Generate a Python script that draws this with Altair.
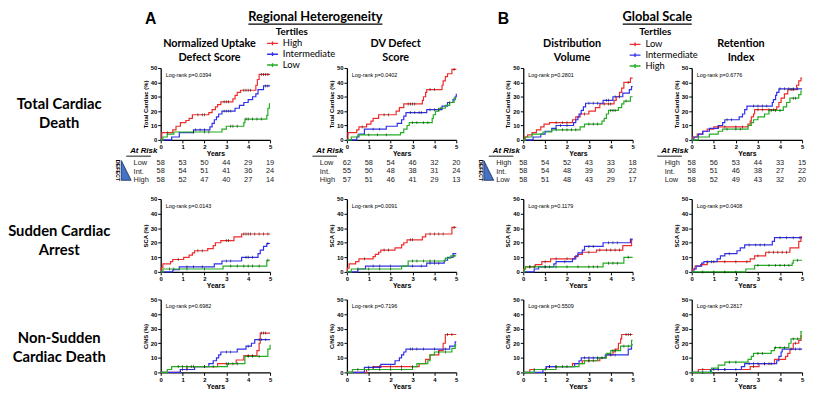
import altair as alt
import pandas as pd

RED = "#ee2c2c"
BLUE = "#3030ea"
GREEN = "#22ad22"
A_GROUPS = ["High", "Intermediate", "Low"]
B_GROUPS = ["Low", "Intermediate", "High"]
YEARS = [0, 1, 2, 3, 4, 5]
Y_TICKS = [0, 10, 20, 30, 40, 50]

PANEL_TITLES = {"A1": ["Normalized Uptake", "Defect  Score"], "A2": ["DV Defect", "Score"],
                "B1": ["Distribution", "Volume"], "B2": ["Retention", "Index"]}
Y_TITLES = ["Total Cardiac (%)", "SCA (%)", "C/NS (%)"]
ROW_LABELS = [["Total Cardiac", "Death"], ["Sudden Cardiac", "Arrest"], ["Non-Sudden", "Cardiac Death"]]
P_VALUES = {"A1": ["0.0394", "0.0143", "0.6982"], "A2": ["0.0402", "0.0091", "0.7196"],
            "B1": ["0.2801", "0.1179", "0.5509"], "B2": ["0.6776", "0.0408", "0.2817"]}

AT_RISK_A1 = {"Low": [58, 53, 50, 44, 29, 19], "Int.": [58, 54, 51, 41, 36, 24], "High": [58, 52, 47, 40, 27, 14]}
AT_RISK_A2 = {"Low": [62, 58, 54, 46, 32, 20], "Int.": [55, 50, 48, 38, 31, 24], "High": [57, 51, 46, 41, 29, 13]}
AT_RISK_B1 = {"High": [58, 54, 52, 43, 33, 18], "Int.": [58, 54, 48, 39, 30, 22], "Low": [58, 51, 48, 43, 29, 17]}
AT_RISK_B2 = {"High": [58, 56, 53, 44, 33, 15], "Int.": [58, 51, 46, 38, 27, 22], "Low": [58, 52, 49, 43, 32, 20]}

# ---- cumulative event curves: (times, percent) ----
A1_TOTAL = {
    "High": ([0, 0.05, 0.55, 0.7, 0.9, 1.15, 1.3, 1.45, 2.2, 2.35, 2.5, 2.6, 2.75, 3.3, 3.4, 3.5, 3.65, 4.35, 4.42, 4.5, 5],
             [0, 5, 7, 9.5, 12, 13.5, 15, 17.5, 19, 21, 23, 24.5, 26.5, 28.5, 31, 33, 34.5, 38, 42, 45.5, 45.5]),
    "Intermediate": ([0, 0.5, 0.85, 1.5, 2.25, 2.35, 2.45, 2.55, 2.65, 2.8, 3.4, 3.6, 3.8, 4.0, 4.2, 4.35, 4.45, 4.7, 5],
                     [0, 2, 5, 7, 9, 11.5, 14, 16, 18, 20, 22, 24, 26, 28, 30, 32, 35, 37.5, 37.5]),
    "Low": ([0, 0.1, 0.3, 0.6, 2.8, 3.0, 3.8, 3.85, 4.85, 4.9, 4.97, 5],
            [0, 2, 4, 5.5, 7.5, 9.5, 12, 14.5, 17, 22, 25, 25]),
}
A1_SCA = {
    "High": ([0, 0.02, 0.1, 0.45, 0.55, 1.05, 1.3, 1.45, 1.55, 2.15, 2.4, 2.5, 2.75, 3.35, 3.7, 5],
             [0, 3, 5.5, 7, 8.5, 10, 11.5, 13, 14.5, 16, 18, 20, 21.5, 24, 26, 26]),
    "Intermediate": ([0, 0.55, 0.85, 2.45, 2.8, 3.7, 4.45, 4.55, 4.7, 4.85, 5],
                     [0, 1.5, 3.5, 5.5, 7.5, 10, 12.5, 15, 17.5, 19.5, 19.5]),
    "Low": ([0, 0.1, 2.85, 4.85, 5], [0, 2, 4, 8, 8]),
}
A1_CNS = {
    "High": ([0, 0.9, 1.2, 2.6, 3.45, 3.8, 4.4, 4.5, 4.55, 5], [0, 2, 4, 6, 8.5, 11.5, 15, 20, 27, 27]),
    "Intermediate": ([0, 0.9, 1.55, 2.2, 2.4, 2.55, 2.65, 2.75, 3.5, 3.9, 4.15, 4.3, 5],
                     [0, 2, 4, 6, 8, 10, 12, 14, 16, 18, 20, 22.5, 22.5]),
    "Low": ([0, 0.3, 0.5, 3.05, 3.85, 4.9, 5.0], [0, 2, 4, 6, 11, 16, 19]),
}
A2_TOTAL = {
    "High": ([0, 0.05, 0.45, 0.55, 0.9, 1.1, 1.2, 1.45, 2.25, 2.4, 2.6, 3.45, 3.5, 3.6, 3.65, 4.35, 4.4, 4.5, 4.6, 4.8, 5],
             [0, 5, 7, 9, 11, 13, 15, 17.5, 20, 22.5, 25, 27.5, 30, 33, 35, 38, 41, 44, 46, 49, 49]),
    "Intermediate": ([0, 0.45, 0.55, 0.8, 1.8, 2.3, 2.5, 2.6, 2.7, 3.65, 4.35, 4.6, 4.85, 4.95, 5],
                     [0, 2, 4, 7.5, 9.5, 11.5, 14, 16.5, 19, 21, 23.5, 26, 28, 30, 32]),
    "Low": ([0, 0.2, 0.5, 2.45, 2.6, 2.75, 2.85, 3.9, 3.95, 4.05, 4.2, 4.5, 4.7, 4.9, 5],
            [0, 2, 3.5, 5, 7.5, 10, 12, 15, 17.5, 20, 22, 24, 26, 29, 29]),
}
A2_SCA = {
    "High": ([0, 0.02, 0.1, 0.4, 0.55, 1.2, 1.3, 1.45, 1.55, 2.2, 2.5, 2.6, 2.75, 3.45, 3.6, 4.8, 5],
             [0, 2.5, 5.5, 7, 9, 10.5, 12, 13.5, 15, 16.5, 18.5, 20, 22, 24, 26, 30.5, 30.5]),
    "Intermediate": ([0, 0.5, 0.85, 3.65, 4.45, 4.6, 4.85, 5], [0, 2, 4, 6, 8, 10, 12.5, 12.5]),
    "Low": ([0, 0.2, 2.5, 2.8, 4.5, 4.75, 5], [0, 2, 4, 7.5, 9.5, 11, 11]),
}
A2_CNS = {
    "High": ([0, 0.9, 1.2, 3.3, 3.6, 3.8, 4.2, 4.4, 4.5, 5], [0, 2, 4, 6, 9, 12, 15, 20, 26, 26]),
    "Intermediate": ([0, 0.8, 1.55, 2.2, 2.4, 2.5, 2.6, 2.7, 4.7, 4.95, 5],
                     [0, 3.5, 5.5, 8, 10, 12, 14, 16, 18, 21, 21]),
    "Low": ([0, 0.25, 3.0, 3.2, 3.7, 3.8, 4.0, 4.8, 4.95, 5], [0, 2, 4, 6, 8, 12, 14, 16.5, 19, 19]),
}
B1_TOTAL = {
    "Low": ([0, 0.05, 0.2, 0.4, 0.6, 0.8, 0.95, 1.2, 2.25, 2.4, 2.6, 3.0, 3.3, 3.5, 4.15, 4.25, 4.4, 4.5, 4.6, 4.9, 5],
            [0, 2, 3.5, 5, 7, 9, 11, 12, 14, 16, 18, 20, 22.5, 25, 27.5, 30, 33, 36, 40, 43, 43]),
    "Intermediate": ([0, 0.45, 0.8, 1.0, 1.3, 1.5, 2.3, 2.4, 2.5, 2.55, 2.65, 2.75, 2.85, 3.65, 4.1, 4.55, 4.85, 4.95, 5],
                     [0, 2, 4, 6, 8, 10, 12, 14, 16, 18, 20.5, 23, 25.5, 27.5, 30, 32.5, 35, 37, 37]),
    "High": ([0, 0.1, 0.4, 0.9, 1.3, 2.6, 2.8, 3.6, 3.7, 3.8, 3.9, 4.35, 4.5, 4.6, 4.9, 5],
             [0, 2, 4, 5.5, 7, 9, 11, 13, 15, 18, 20.5, 22.5, 25, 27, 30, 30]),
}
B1_SCA = {
    "Low": ([0, 0.02, 0.1, 0.55, 0.85, 1.25, 2.35, 2.5, 2.7, 3.35, 4.55, 4.95, 5],
            [0, 2, 3.5, 5, 7, 9, 10.5, 12, 13.5, 15, 18, 22, 22]),
    "Intermediate": ([0, 0.5, 0.7, 1.4, 1.5, 2.25, 2.4, 2.5, 2.7, 2.8, 3.65, 4.9, 5],
                     [0, 2, 3.5, 5.5, 7, 9, 11, 13, 15, 17.5, 20, 22.5, 22.5]),
    "High": ([0, 0.05, 0.1, 3.65, 4.6, 5], [0, 2, 3.5, 6, 10, 10]),
}
B1_CNS = {
    "Low": ([0, 0.3, 1.05, 2.25, 2.7, 3.5, 3.8, 4.1, 4.2, 4.35, 4.45, 4.5, 5],
            [0, 2, 4, 6, 8, 10, 12, 14, 16, 20, 23, 26, 26]),
    "Intermediate": ([0, 0.9, 1.05, 2.35, 2.55, 2.65, 3.75, 4.8, 4.95, 5], [0, 2, 4, 6, 8, 10, 12, 16, 19, 19]),
    "High": ([0, 0.5, 1.5, 2.55, 2.8, 3.4, 3.8, 4.0, 4.45, 4.95, 5], [0, 2, 4, 6, 8, 10, 13, 15, 18, 22, 22]),
}
B2_TOTAL = {
    "Low": ([0, 0.05, 0.25, 0.5, 0.7, 1.0, 2.55, 2.65, 2.7, 2.8, 2.85, 3.85, 3.95, 4.05, 4.2, 4.35, 4.75, 4.85, 4.95, 5],
            [0, 2, 4, 6, 7.5, 9, 11, 13, 16, 18, 21, 23, 26, 29, 32, 35, 38, 41, 43, 43]),
    "Intermediate": ([0, 0.1, 0.3, 0.5, 0.8, 1.2, 1.4, 1.5, 2.15, 2.3, 2.4, 2.5, 3.65, 3.7, 3.8, 3.85, 3.95, 5],
                     [0, 2, 4, 6, 8, 10, 12, 14, 16, 18, 21, 23.5, 26, 28, 31, 33, 35.5, 35.5]),
    "High": ([0, 0.3, 0.8, 1.2, 1.4, 2.55, 2.7, 2.8, 3.0, 3.3, 3.5, 4.15, 4.3, 4.45, 4.85, 4.95, 5],
             [0, 2, 4, 6, 7.5, 10, 12, 14, 16, 18, 20.5, 23, 26, 29, 31.5, 34, 34]),
}
B2_SCA = {
    "Low": ([0, 0.02, 0.15, 0.4, 0.7, 2.65, 2.85, 3.35, 4.45, 4.85, 4.95, 5],
            [0, 2, 4, 5, 7, 9, 11, 13.5, 16.5, 21, 24, 24]),
    "Intermediate": ([0, 0.1, 0.2, 0.45, 0.55, 1.15, 1.3, 1.5, 2.05, 2.2, 2.4, 3.65, 3.75, 5],
                     [0, 2, 4, 6, 7, 9, 11, 12.5, 14.5, 16.5, 18.5, 21, 23.5, 23.5]),
    "High": ([0, 2.45, 2.85, 4.55, 4.6, 5], [0, 2, 4.5, 6, 8, 8]),
}
B2_CNS = {
    "Low": ([0, 0.3, 2.65, 3.05, 3.75, 4.25, 4.35, 4.45, 4.6, 4.85, 4.95, 5],
            [0, 2, 4, 6, 9, 11, 13, 16, 20, 22, 25, 25]),
    "Intermediate": ([0, 0.85, 2.25, 2.4, 3.85, 3.95, 4.05, 4.1, 5], [0, 2, 4, 6, 8, 11, 14, 16, 16]),
    "High": ([0, 0.9, 1.2, 1.5, 2.55, 2.7, 2.8, 3.6, 3.75, 4.4, 4.5, 4.95, 5],
             [0, 3, 5, 7, 9, 11, 13, 15, 17, 20, 23, 28, 28]),
}

# ---- censoring times ----
A1_TOTAL_C = {"High": [0.3, 1.7, 1.9, 2.0, 2.9, 3.0, 3.1, 3.8, 3.9, 4.0, 4.1, 4.6, 4.7, 4.8, 4.9],
              "Intermediate": [1.6, 1.8, 2.0, 2.9, 3.0, 3.1, 3.2, 4.8, 4.9],
              "Low": [1.5, 2.0, 2.2, 3.2, 3.3, 3.5, 3.9, 4.0, 4.2, 4.4, 4.6]}
A1_SCA_C = {"High": [0.8, 1.7, 1.9, 3.0, 3.1, 3.8, 3.9, 4.0, 4.1, 4.3, 4.5, 4.7, 4.9],
            "Intermediate": [1.2, 1.5, 1.9, 3.0, 3.2, 3.9, 4.0, 4.2, 4.9],
            "Low": [0.4, 0.6, 1.2, 2.0, 3.2, 3.5, 3.8, 4.0, 4.2, 4.5, 4.9]}
A1_CNS_C = {"High": [1.5, 2.0, 3.0, 3.1, 4.0, 4.2, 4.6, 4.7, 4.8],
            "Intermediate": [1.0, 1.2, 3.0, 3.2, 4.0, 4.5, 4.6, 4.8],
            "Low": [0.8, 1.0, 1.2, 1.4, 2.0, 2.4, 3.3, 3.5, 4.0, 4.2, 4.5]}
A2_TOTAL_C = {"High": [0.7, 1.7, 1.9, 2.8, 2.9, 3.0, 3.1, 3.8, 4.0, 4.9],
              "Intermediate": [1.2, 1.5, 2.9, 3.1, 3.3, 3.4, 3.8, 4.0, 4.2, 4.7],
              "Low": [1.0, 1.4, 1.8, 3.0, 3.2, 3.5, 3.7, 4.3]}
A2_SCA_C = {"High": [0.8, 1.7, 1.9, 2.9, 3.0, 3.8, 4.0, 4.2, 4.4, 4.9],
            "Intermediate": [1.2, 1.5, 2.0, 3.0, 3.4, 3.8, 4.0, 4.2],
            "Low": [0.5, 1.0, 1.5, 2.0, 3.0, 3.2, 3.5, 3.8, 4.0, 4.9]}
A2_CNS_C = {"High": [1.5, 2.0, 2.5, 3.0, 4.6, 4.8],
            "Intermediate": [1.0, 1.2, 2.9, 3.0, 3.2, 3.5, 4.0, 4.5],
            "Low": [0.5, 1.0, 1.5, 2.0, 2.5, 4.2, 4.5]}
B1_TOTAL_C = {"Low": [1.5, 1.8, 2.0, 2.8, 3.7, 3.9, 4.0, 4.8],
              "Intermediate": [1.7, 2.0, 3.0, 3.2, 3.4, 3.8, 3.9, 4.2, 4.4],
              "High": [1.5, 1.8, 2.0, 2.2, 2.4, 3.0, 3.2, 3.4, 4.0, 4.1, 4.2, 4.7]}
B1_SCA_C = {"Low": [0.3, 1.0, 1.5, 2.0, 3.0, 3.5, 3.8, 4.0, 4.2, 4.4],
            "Intermediate": [1.0, 1.2, 1.9, 3.0, 3.2, 3.9, 4.1, 4.3],
            "High": [0.3, 0.5, 1.0, 1.5, 2.0, 2.5, 3.0, 3.2, 3.4, 3.9, 4.1, 4.3, 4.8]}
B1_CNS_C = {"Low": [0.5, 1.2, 1.5, 3.0, 3.2, 4.7, 4.8, 4.9],
            "Intermediate": [1.2, 1.5, 1.8, 2.8, 3.0, 3.2, 3.4, 4.0, 4.2],
            "High": [1.0, 2.0, 3.0, 3.6, 4.1, 4.2, 4.6, 4.8]}
B2_TOTAL_C = {"Low": [1.2, 1.5, 2.0, 2.3, 3.0, 3.2, 3.5, 3.7, 4.5, 4.6],
              "Intermediate": [1.6, 1.8, 2.8, 3.0, 3.2, 3.4, 4.0, 4.2, 4.4, 4.6, 4.8],
              "High": [1.6, 2.0, 2.2, 3.6, 3.8, 4.0, 4.6, 4.7]}
B2_SCA_C = {"Low": [1.0, 1.5, 2.0, 2.5, 3.0, 3.5, 3.7, 3.9, 4.1, 4.3],
            "Intermediate": [0.7, 0.9, 1.7, 2.6, 2.9, 3.1, 3.3, 4.0, 4.3, 4.6, 4.9],
            "High": [0.5, 1.0, 1.5, 2.0, 3.0, 3.5, 3.8, 4.0, 4.2, 4.4, 4.8]}
B2_CNS_C = {"Low": [0.5, 1.0, 1.5, 2.0, 2.8, 3.3, 3.5, 4.7],
            "Intermediate": [0.5, 1.2, 1.5, 2.6, 2.8, 3.0, 3.3, 3.6, 4.5, 4.7, 4.9],
            "High": [1.7, 2.0, 3.0, 3.2, 3.8, 4.0, 4.2, 4.6, 4.8]}

CURVES = {"A1": [A1_TOTAL, A1_SCA, A1_CNS], "A2": [A2_TOTAL, A2_SCA, A2_CNS],
          "B1": [B1_TOTAL, B1_SCA, B1_CNS], "B2": [B2_TOTAL, B2_SCA, B2_CNS]}
CENSORS = {"A1": [A1_TOTAL_C, A1_SCA_C, A1_CNS_C], "A2": [A2_TOTAL_C, A2_SCA_C, A2_CNS_C],
           "B1": [B1_TOTAL_C, B1_SCA_C, B1_CNS_C], "B2": [B2_TOTAL_C, B2_SCA_C, B2_CNS_C]}
AT_RISK = {"A1": AT_RISK_A1, "A2": AT_RISK_A2, "B1": AT_RISK_B1, "B2": AT_RISK_B2}

AX_FONT = "Liberation Sans"
TITLE_FONT = "Lato"

# layout
COL_W = [150, 111, 78, 111, 68, 111, 60, 112]
ROW_H = [58, 73, 19, 26, 15, 74, 28, 74]
PANEL_COLS = {"A1": 1, "A2": 3, "B1": 5, "B2": 7}
KM_ROWS = [1, 5, 7]
TABLE_ROW = 3

ONE = pd.DataFrame({"a": [0]})

LEGEND_SYMBOL = "M-1,0H1M0,-0.35V0.35"


def legend(x, y):
    return alt.Legend(orient="none", legendX=x, legendY=y, title=None, labelFont=TITLE_FONT,
                      labelFontSize=9.5, labelColor="black", symbolType=LEGEND_SYMBOL,
                      symbolSize=121, symbolStrokeWidth=1.4, rowPadding=1, clipHeight=10,
                      labelOffset=4, padding=0)


def step_val(T, V, c):
    v = V[0]
    for t, val in zip(T, V):
        if t <= c:
            v = val
    return v


def spacer(w, h):
    return alt.Chart(ONE).mark_text(text="", fontSize=0, baseline="top").encode(
        x=alt.value(0), y=alt.value(0)).properties(width=w, height=h)


def txt(s, x, y, size, weight="normal", font=TITLE_FONT, align="center", baseline="middle",
        angle=0, style="normal", color="black", line_height=None):
    kw = dict(text=s, fontSize=size, fontWeight=weight, font=font, align=align, baseline=baseline,
              angle=angle, fontStyle=style, color=color)
    if line_height:
        kw["lineHeight"] = line_height
    return alt.Chart(ONE).mark_text(**kw).encode(x=alt.value(x), y=alt.value(y))


def hrule(x1, x2, y, width=1.0, color="black"):
    return alt.Chart(ONE).mark_rule(color=color, strokeWidth=width).encode(
        x=alt.value(x1), x2=alt.value(x2), y=alt.value(y))


def axis_style(**kw):
    base = dict(labelFontSize=6, labelFontWeight="bold", tickSize=3, labelPadding=1,
                domainColor="black", tickColor="black", labelColor="black", titleColor="black",
                domainWidth=1.3, tickWidth=1, grid=False, labelFont=AX_FONT, titleFont=AX_FONT,
                labelOverlap=False, labelFlush=False, titleFontWeight="bold", labelSeparation=0)
    base.update(kw)
    return alt.Axis(**base)


def km_panel(key, outcome):
    groups = A_GROUPS if key[0] == "A" else B_GROUPS
    curves = CURVES[key][outcome]
    cens = CENSORS[key][outcome]
    rows, crow = [], []
    for g in groups:
        T, V = curves[g]
        for t, v in zip(T, V):
            rows.append({"t": t, "v": v, "g": g})
        for c in cens[g]:
            crow.append({"t": c, "v": step_val(T, V, c), "g": g})
    df = pd.DataFrame(rows)
    cdf = pd.DataFrame(crow)
    xax = axis_style(values=YEARS, format="d", title="Years", titleFontSize=7, titlePadding=0)
    yax = axis_style(values=Y_TICKS, format="d", title=Y_TITLES[outcome], titleFontSize=6, titlePadding=2)
    x = alt.X("t:Q", scale=alt.Scale(domain=[0, 5], nice=False), axis=xax)
    y = alt.Y("v:Q", scale=alt.Scale(domain=[0, 50], nice=False), axis=yax)
    base = alt.Chart(df).mark_line(interpolate="step-after", strokeWidth=1.2)
    if key[0] == "A":
        line = base.encode(x=x, y=y, color=alt.Color("g:N", scale=alt.Scale(domain=A_GROUPS, range=[RED, BLUE, GREEN]),
                                                     legend=legend(257, 28)))
    else:
        line = base.encode(x=x, y=y, stroke=alt.Stroke("g:N", scale=alt.Scale(domain=B_GROUPS, range=[RED, BLUE, GREEN]),
                                                       legend=legend(625, 29)))
    ticks = alt.Chart(cdf).mark_tick(color="#111", orient="vertical", size=3, thickness=0.8).encode(
        x=x, y=y)
    ptxt = txt("Log-rank p=" + P_VALUES[key][outcome], 5, 7, 5.5, font=AX_FONT, align="left")
    ch = alt.layer(line, ticks, ptxt)
    props = dict(width=COL_W[PANEL_COLS[key]], height=ROW_H[KM_ROWS[outcome]])
    if outcome == 0:
        props["title"] = alt.TitleParams(text=PANEL_TITLES[key], font=TITLE_FONT, fontSize=11,
                                         fontWeight="bold", lineHeight=14, offset=2, anchor="middle",
                                         color="black", dx=-6)
    return ch.properties(**props)


def table_panel(key):
    data = AT_RISK[key]
    order = list(data.keys())
    rows = []
    for g in order:
        for yr, n in zip(YEARS, data[g]):
            rows.append({"g": g, "yr": yr, "n": n})
    df = pd.DataFrame(rows)
    nums = alt.Chart(df).mark_text(fontSize=7.5, font=AX_FONT, color="#222").encode(
        x=alt.X("yr:Q", scale=alt.Scale(domain=[0, 5], nice=False), axis=None),
        y=alt.Y("g:N", sort=order, scale=alt.Scale(domain=order, padding=0.5),
                axis=alt.Axis(title=None, domain=False, ticks=False, labelAlign="left", labelPadding=28,
                              labelFontSize=7.5, labelFont=AX_FONT, labelColor="#222")),
        text="n:Q")
    layers = [nums,
              txt("At Risk", -31, -8, 8, weight="bold", font=AX_FONT, align="left", style="italic"),
              hrule(-35, -10, -2.5, 0.9)]
    if key in ("A1", "B1"):
        tri = alt.Chart(ONE).mark_point(shape="M-0.5,-1L-0.5,1L0.5,1Z", filled=True, fill="#4472c4",
                                        stroke="#1a2a55", strokeWidth=0.8, size=400, opacity=1).encode(
            x=alt.value(-35), y=alt.value(12))
        layers += [txt("DEFECT", -43, 12, 5.5, weight="bold", font=AX_FONT, angle=90), tri]
    return alt.layer(*layers).properties(width=COL_W[PANEL_COLS[key]], height=ROW_H[TABLE_ROW])


def header():
    layers = [
        txt("A", 134, 0, 16, weight="bold", font=AX_FONT, align="left", baseline="top"),
        txt("Regional Heterogeneity", 307, 0, 13, weight="bold", baseline="top"),
        hrule(239, 375, 13.5, 1.2),
        txt("B", 492, 0, 16, weight="bold", font=AX_FONT, align="left", baseline="top"),
        txt("Global Scale", 654, 0, 13, weight="bold", baseline="top"),
        hrule(619, 689, 13.5, 1.2),
        txt("Tertiles", 283, 21.5, 10, weight="bold"),
        txt("Tertiles", 652, 22, 10, weight="bold"),
    ]
    return alt.layer(*layers).properties(width=COL_W[0], height=ROW_H[0])


def row_label(i, y):
    return txt(ROW_LABELS[i], 47, y, 15, weight="bold", line_height=19).properties(
        width=COL_W[0], height=ROW_H[KM_ROWS[i]])


grid = [[None] * len(COL_W) for _ in ROW_H]
grid[0][0] = header()
for i, yy in enumerate([37, 33, 39]):
    grid[KM_ROWS[i]][0] = row_label(i, yy)
for key, c in PANEL_COLS.items():
    for o in range(3):
        grid[KM_ROWS[o]][c] = km_panel(key, o)
    grid[TABLE_ROW][c] = table_panel(key)

cells = []
for r, h in enumerate(ROW_H):
    for c, w in enumerate(COL_W):
        cells.append(grid[r][c] if grid[r][c] is not None else spacer(w, h))

chart = alt.concat(*cells, columns=len(COL_W), spacing=0, bounds="flush", align="each").properties(
    padding=0).configure(font=AX_FONT).configure_view(stroke="transparent", strokeWidth=0).configure_axis(
    labelOverlap=False, labelFlush=False)

chart.save("out.html", embed_options={"renderer": "svg", "actions": False})
